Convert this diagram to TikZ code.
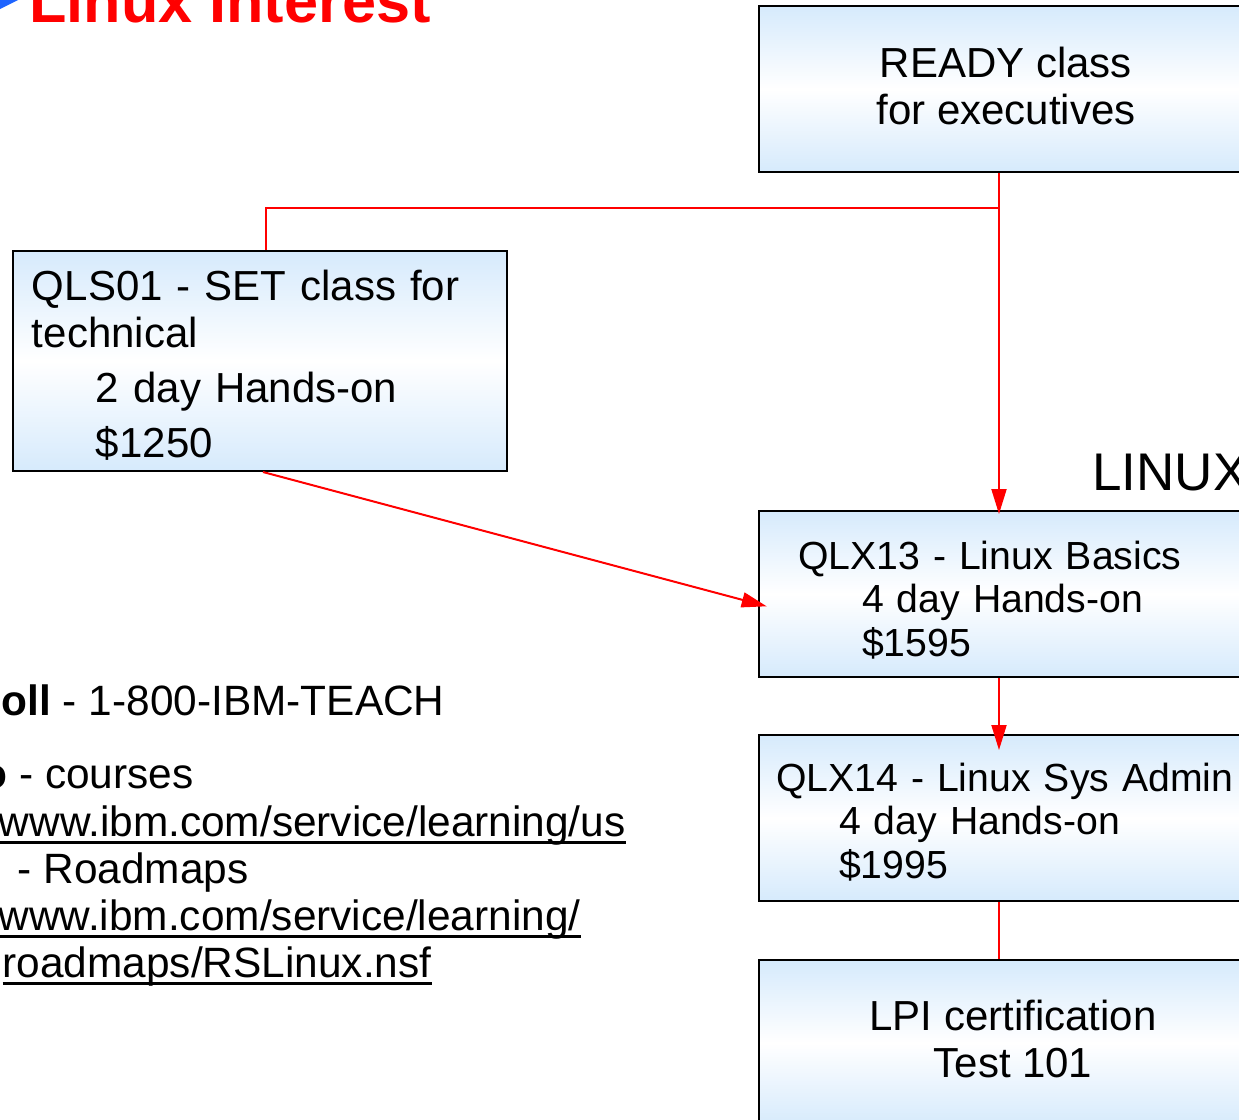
\documentclass[tikz,border=0pt]{standalone}
\usepackage{fontspec}
\setmainfont{Liberation Sans}
\usetikzlibrary{arrows.meta}
\definecolor{boxblue}{RGB}{214,234,252}
\definecolor{bulletblue}{RGB}{30,100,255}
\newcommand{\ulnk}[1]{\setbox0\hbox{#1}\rlap{\rule[-4pt]{\wd0}{1.4pt}}\box0}

\begin{document}
\begin{tikzpicture}[x=0.5pt,y=-0.5pt,>={Triangle[length=12.5pt,width=7.5pt]},
    course/.style={draw,line width=1pt,top color=boxblue,bottom color=boxblue,middle color=white,inner ysep=0pt,font=\fontsize{21}{23.5}\selectfont},
    small course/.style={course,font=\fontsize{19.6}{21.8}\selectfont},
    link/.style={red,line width=1pt},
    plain text/.style={inner sep=0pt,anchor=base east,font=\fontsize{21.2}{23.5}\selectfont}]
    \useasboundingbox (0,0) rectangle (1239,1120);
    \clip (0,0) rectangle (1239,1120);

    % title
    \fill[bulletblue] (-10,-25) -- (22,-2) -- (-10,14) -- cycle;
    \node[inner sep=0pt,anchor=base west,text=red,font=\fontsize{30.6}{36}\selectfont\bfseries] (title) at (29,22) {Linux Interest};

    % courses
    \node[course,minimum width=247pt,minimum height=83pt,align=center] (ready) at (1006,89) {READY class\\for executives\rule[-3.5pt]{0pt}{3.5pt}};
    \node[course,minimum height=110pt,text width=228pt,inner xsep=9.5pt,align=left] (qls) at (260,361)
        {\rule{0pt}{19.5pt}QLS01 - SET class for\\technical\\[4pt]\hspace*{32pt}2 day Hands-on\\[4pt]\hspace*{32pt}\$1250};
    \node[small course,minimum height=83pt,text width=212.5pt,inner xsep=19.5pt,align=left] (qlx13) at (1010.5,594)
        {\rule{0pt}{20pt}QLX13 - Linux Basics\\\hspace*{32pt}4 day Hands-on\\\hspace*{32pt}\$1595};
    \node[small course,minimum height=83pt,text width=234.5pt,inner xsep=8.5pt,align=left] (qlx14) at (1010.5,818)
        {\rule{0pt}{18pt}QLX14 - Linux Sys Admin\\\hspace*{31.5pt}4 day Hands-on\\\hspace*{31.5pt}\$1995};
    \node[course,minimum width=254pt,minimum height=83pt,align=center] (lpi) at (1013,1043) {LPI certification\\Test 101\rule[-4.5pt]{0pt}{4.5pt}};

    \node[inner sep=0pt,anchor=base west,font=\fontsize{26.5}{30}\selectfont] (linux) at (1092,490) {LINUX};

    % contact lines
    \node[plain text] (toll) at (445,715) {\textbf{oll} - 1-800-IBM-TEACH};
    \node[plain text] (courses) at (194,788) {\textbf{o} - courses};
    \node[plain text] (url1) at (626,836) {\ulnk{www.ibm.com/service/learning/us}};
    \node[plain text] (roadmaps) at (249,883) {- Roadmaps};
    \node[plain text] (url2) at (581,930) {\ulnk{www.ibm.com/service/learning/}};
    \node[plain text] (url3) at (432,977) {\ulnk{roadmaps/RSLinux.nsf}};

    % connectors
    \coordinate (jn) at (999,208);
    \coordinate (jl) at (266,208);
    \draw[link,->,shorten >=-2pt] (ready.south -| jn) -- (qlx13.north -| jn);
    \draw[link] (jn) -- (jl) -- (jl |- qls.north);
    \draw[link,->,shorten >=-4.5pt] ([xshift=1.5pt]qls.south) -- ([yshift=-5pt]qlx13.west);
    \draw[link,->,shorten >=-8pt] (qlx13.south -| jn) -- (qlx14.north -| jn);
    \draw[link] (qlx14.south -| jn) -- (lpi.north -| jn);
\end{tikzpicture}
\end{document}
